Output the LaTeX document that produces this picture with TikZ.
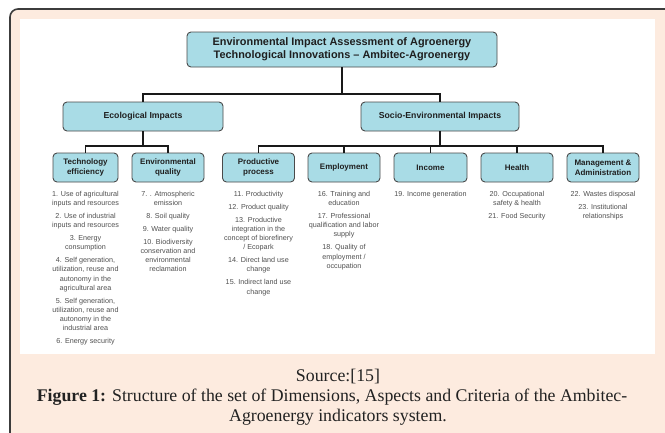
\documentclass[tikz,border=0pt]{standalone}
\usepackage{fontspec}
\setmainfont{Liberation Serif}
\setsansfont{Liberation Sans}
\definecolor{peach}{HTML}{FDEBDF}
\definecolor{framegray}{HTML}{3C3C3C}
\definecolor{boxblue}{HTML}{A9DCE6}
\definecolor{boxborder}{HTML}{4A4A4A}
\definecolor{itemgray}{HTML}{505050}
\definecolor{captext}{HTML}{222222}
\tikzset{
  box/.style={draw=boxborder, line width=0.9pt, fill=boxblue, rounded corners=4pt,
    align=center, inner sep=1pt, text=black!88,
    font=\sffamily\bfseries\fontsize{8}{9.6}\selectfont},
  midbox/.style={box, font=\sffamily\bfseries\fontsize{8.7}{10}\selectfont},
  topbox/.style={box, font=\sffamily\bfseries\fontsize{10.9}{13}\selectfont},
  items/.style={anchor=north, align=center, inner sep=0pt, text=itemgray,
    font=\sffamily\fontsize{7.2}{9.2}\selectfont},
  conn/.style={draw=black!90, line width=1.4pt},
  captxt/.style={text=captext, font=\fontsize{17.8}{20}\selectfont, inner sep=0pt}
}
\begin{document}
\begin{tikzpicture}[x=1pt,y=-1pt]
\useasboundingbox (0,0) rectangle (665,432);
\clip (0,0) rectangle (665,432);
\fill[white] (0,0) rectangle (665,432);
\draw[line width=1.6pt, draw=framegray, fill=peach, rounded corners=8pt] (10,9) rectangle (700,470);
\fill[white] (20,19) rectangle (655,354);

% nodes
\node[topbox, minimum width=310pt, minimum height=35pt] (top) at (342,49.5)
  {Environmental Impact Assessment of Agroenergy\\Technological Innovations -- Ambitec-Agroenergy};
\node[midbox, minimum width=160pt, minimum height=29pt] (eco) at (143,116.5) {Ecological Impacts};
\node[midbox, minimum width=158pt, minimum height=29pt] (soc) at (440,116.5) {Socio-Environmental Impacts};

\node[box, minimum width=65pt, minimum height=29pt] (tech) at (85.5,167.5) {Technology\\efficiency};
\node[box, minimum width=72pt, minimum height=29pt] (env) at (168,167.5) {Environmental\\quality};
\node[box, minimum width=72pt, minimum height=29pt] (prod) at (258.5,167.5) {Productive\\process};
\node[box, minimum width=72pt, minimum height=29pt] (emp) at (344,167.5) {Employment};
\node[box, minimum width=73pt, minimum height=29pt] (inc) at (430.5,167.5) {Income};
\node[box, minimum width=72pt, minimum height=29pt] (hea) at (517,167.5) {Health};
\node[box, minimum width=72pt, minimum height=29pt] (man) at (603,167.5) {Management \&\\Administration};

% connectors
\coordinate (j0) at (342,94);
\coordinate (j1) at (143,146);
\coordinate (j2) at (440,146);
\draw[conn] (top.south) -- (j0) -| (eco.north);
\draw[conn] (j0) -| (soc.north);
\draw[conn] (eco.south) -- (j1) -| (tech.north);
\draw[conn] (j1) -| (env.north);
\draw[conn] (soc.south) -- (j2) -| (prod.north);
\draw[conn] (j2) -| (man.north);
\draw[conn] (j2 -| emp.north) -- (emp.north);
\draw[conn] (j2 -| inc.north) -- (inc.north);
\draw[conn] (j2 -| hea.north) -- (hea.north);

% items
\node[items] (ti) at (85.5,191) {1. Use of agricultural\\inputs and resources\\[3.7pt]
2. Use of industrial\\inputs and resources\\[3.7pt]
3. Energy\\consumption\\[3.7pt]
4. Self generation,\\utilization, reuse and\\autonomy in the\\agricultural area\\[3.7pt]
5. Self generation,\\utilization, reuse and\\autonomy in the\\industrial area\\[3.7pt]
6. Energy security};
\node[items] (ei) at (168,191) {7. . Atmospheric\\emission\\[3.7pt]
8. Soil quality\\[3.7pt]
9. Water quality\\[3.7pt]
10. Biodiversity\\conservation and\\environmental\\reclamation};
\node[items] (pi) at (258.5,191) {11. Productivity\\[3.7pt]
12. Product quality\\[3.7pt]
13. Productive\\integration in the\\concept of biorefinery\\/ Ecopark\\[3.7pt]
14. Direct land use\\change\\[3.7pt]
15. Indirect land use\\change};
\node[items] (mi) at (344,191) {16. Training and\\education\\[3.7pt]
17. Professional\\qualification and labor\\supply\\[3.7pt]
18. Quality of\\employment /\\occupation};
\node[items] (ii) at (430.5,191) {19. Income generation};
\node[items] (hi) at (517,191) {20. Occupational\\safety \& health\\[3.7pt]
21. Food Security};
\node[items] (ai) at (603,191) {22. Wastes disposal\\[3.7pt]
23. Institutional\\relationships};

% caption
\node[captxt] (src) at (338,377) {Source:[15]};
\node[captxt] (fig1) at (332,397) {\textbf{Figure 1:} Structure of the set of Dimensions, Aspects and Criteria of the Ambitec-};
\node[captxt] (fig2) at (338,417) {Agroenergy indicators system.};
\end{tikzpicture}
\end{document}
